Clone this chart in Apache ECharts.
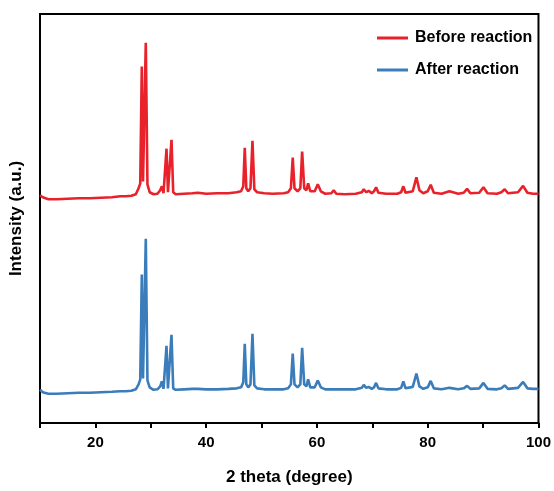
<!DOCTYPE html>
<html>
<head>
<meta charset="utf-8">
<script src="https://cdn.jsdelivr.net/npm/echarts@6/dist/echarts.min.js"></script>
<style>html,body{margin:0;padding:0;background:#fff}#c{width:554px;height:491px}</style>
</head>
<body>
<div id="c"></div>
<script>
// 2 theta (degree)
const twoTheta = [10.0,10.5,11.5,13,15,17,19,21,23,24.5,25.5,26.5,27.3,27.8,28.1,28.38,28.6,28.8,29.1,29.4,29.8,30.5,31.2,31.7,32.0,32.3,32.6,32.84,33.1,33.45,33.74,34.05,34.5,36,37.5,38.5,40,42,44,45.5,46.3,46.7,46.97,47.25,47.6,48.0,48.36,48.7,49.2,50.5,52,54,54.8,55.3,55.63,55.95,56.5,57.0,57.33,57.7,58.1,58.41,58.8,59.6,60.15,60.7,61.5,62.6,63.03,63.5,65,67,68.1,68.45,68.9,69.35,69.9,70.3,70.68,71.1,72.5,74.5,75.2,75.6,76.0,77.3,77.96,78.5,79.2,80.0,80.54,81.1,82.5,83.92,85.5,86.5,87.11,87.7,89.3,90.06,90.8,92.5,93.3,93.9,94.5,96.3,97.22,98.0,99.0,100];
// Before reaction (raw, stacked with an offset below)
const beforeReaction = [30,28,26,26,26.5,27,27,27.5,28,29,29,29.5,31,37,42,160,44,45,184,41,33,31,31.5,35,39,32,34,77,33,34,86,33,31,31.5,32,32.5,31.5,32,32,33,34,39,78,37,34,37,85,36,33,32,31.5,32,33,37,68,37,34,37,74,37,35,42,34,34,41,34,31.5,32,35,31.5,31,31.5,33,36,33,34.5,32,34,38,32.5,31.5,31.5,33,39,32.5,34,48,35,32,34,40.5,32.5,31.5,34,31.5,32.5,36.5,32,32.5,38,32,31.5,33,36,32,33,39.5,32.5,31.5,31.5];
// After reaction
const afterReaction = [33.5,31,29.5,29.5,30,30.5,30.5,31,31.5,32,32,32.5,34,39,44,150,45,46,186,43,36,33.5,34,37,42,34.5,36,78,35,36,89,35,33.5,34,34.5,34.5,34,34,34.5,35,36,41,80,39,36,39,90,38,35,34,34,34,35,39,70,39,36,39,76,39,37,44,36,36,43,36,34,34,34,34,34,34,35.5,38.5,35.5,36.5,34.5,36,40.5,35,34,34,35.5,42,35,36.5,50,37,34.5,36,42.5,35,34,35.5,34,35,37.5,34.5,35,40.5,34.5,34,35,38,34.5,35.5,41.5,35,34.5,34.5];
const beforeOffset = 200;
const xTickLabels = [20,40,60,80,100];
const seriesNames = ['Before reaction','After reaction'];

const font = '"Liberation Sans", Arial, sans-serif';
const chart = echarts.init(document.getElementById('c'));
chart.setOption({
  animation: false,
  backgroundColor: '#fff',
  grid: {left: 40, right: 14, top: 14, bottom: 64, show: true, borderColor: '#000', borderWidth: 2,
         backgroundColor: 'transparent'},
  legend: {
    orient: 'vertical', left: 372, top: 25, icon: 'rect', itemWidth: 31, itemHeight: 3, itemGap: 16,
    textStyle: {fontFamily: font, fontWeight: 'bold', fontSize: 16, color: '#000', padding: [0, 0, 0, 2]},
    data: seriesNames
  },
  xAxis: {
    type: 'value', min: 10, max: 100, interval: 10,
    name: '2 theta (degree)', nameLocation: 'middle', nameGap: 46,
    nameTextStyle: {fontFamily: font, fontWeight: 'bold', fontSize: 17, color: '#000'},
    axisLine: {show: true, onZero: false, lineStyle: {color: '#000', width: 2}},
    axisTick: {show: true, length: 5, lineStyle: {color: '#000', width: 2}},
    axisLabel: {fontFamily: font, fontWeight: 'bold', fontSize: 15, color: '#000', margin: 12,
      formatter: v => xTickLabels.indexOf(v) >= 0 ? String(v) : ''},
    splitLine: {show: false}
  },
  yAxis: {
    type: 'value', min: 0, max: 413,
    name: 'Intensity (a.u.)', nameLocation: 'middle', nameGap: 15,
    nameTextStyle: {fontFamily: font, fontWeight: 'bold', fontSize: 17, color: '#000'},
    axisLine: {show: true, lineStyle: {color: '#000', width: 2}},
    axisTick: {show: false}, axisLabel: {show: false}, splitLine: {show: false}
  },
  series: [
    {name: seriesNames[0], type: 'line', symbol: 'none', color: '#e8212a',
     lineStyle: {width: 2.6, color: '#e8212a'},
     data: twoTheta.map((x, i) => [x, beforeReaction[i] + beforeOffset])},
    {name: seriesNames[1], type: 'line', symbol: 'none', color: '#3a7dba',
     lineStyle: {width: 2.6, color: '#3a7dba'},
     data: twoTheta.map((x, i) => [x, afterReaction[i]])}
  ]
});
</script>
</body>
</html>
